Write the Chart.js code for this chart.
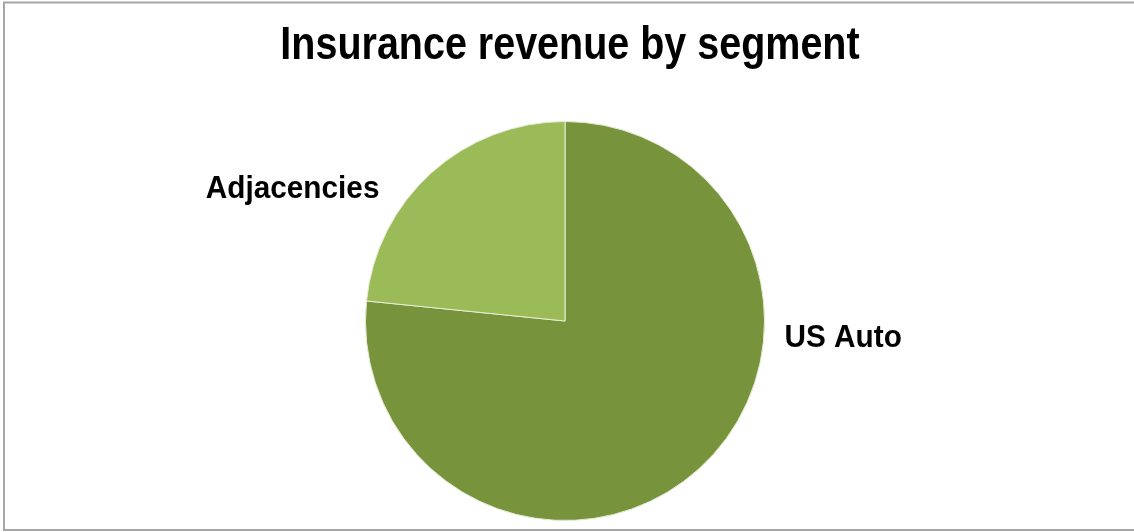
<!DOCTYPE html>
<html>
<head>
<meta charset="utf-8">
<title>Insurance revenue by segment</title>
<script src="https://cdn.jsdelivr.net/npm/chart.js@4/dist/chart.umd.min.js"></script>
<style>
  html, body { margin: 0; padding: 0; background: #fff; }
  #wrap { width: 1134px; height: 532px; }
</style>
</head>
<body>
<div id="wrap"><canvas id="chart" width="1134" height="532"></canvas></div>
<script>
  // segments, clockwise from 12 o'clock
  const segments = ['US Auto', 'Adjacencies'];
  const shares = [76.6, 23.4];
  const sliceColors = ['#77933C', '#9BBB59'];
  const chartTitle = 'Insurance revenue by segment';

  const FONT = "'Liberation Sans', Arial, sans-serif";

  // no narrow face installed, so squeeze the regular bold one
  function narrowText(ctx, text, x, y, size, squeeze, align) {
    ctx.save();
    ctx.font = 'bold ' + size + 'px ' + FONT;
    ctx.fillStyle = '#000';
    ctx.textBaseline = 'alphabetic';
    ctx.textAlign = align;
    ctx.translate(x, y);
    ctx.scale(squeeze, 1);
    ctx.fillText(text, 0, 0);
    ctx.restore();
  }

  // white background, grey frame and the title
  const framePlugin = {
    id: 'frame',
    beforeDraw(chart) {
      const ctx = chart.ctx;
      ctx.save();
      ctx.fillStyle = '#fff';
      ctx.fillRect(0, 0, chart.width, chart.height);
      ctx.strokeStyle = '#a6a6a6';
      ctx.lineWidth = 2;
      ctx.strokeRect(4, 2.5, chart.width + 10, chart.height - 2.5 - 2);
      ctx.restore();
      narrowText(ctx, chartTitle, 570, 59, 47, 0.84, 'center');
    }
  };

  // category names beside the pie, placed relative to the arc
  const sliceLabels = {
    id: 'sliceLabels',
    afterDatasetsDraw(chart) {
      const ctx = chart.ctx;
      const arcs = chart.getDatasetMeta(0).data;
      const spots = [
        { dx: 1.1, dy: 0.13, align: 'left' },
        { dx: -0.93, dy: -0.615, align: 'right' }
      ];
      arcs.forEach((arc, i) => {
        const r = arc.outerRadius;
        narrowText(ctx, segments[i], arc.x + spots[i].dx * r, arc.y + spots[i].dy * r,
          32, 0.93, spots[i].align);
      });
    }
  };

  new Chart(document.getElementById('chart'), {
    type: 'pie',
    data: {
      labels: segments,
      datasets: [{
        data: shares,
        backgroundColor: sliceColors,
        borderColor: '#e6eed6',
        borderWidth: 1
      }]
    },
    options: {
      responsive: false,
      animation: false,
      layout: { padding: { left: 0, right: 4, top: 121, bottom: 11 } },
      plugins: {
        legend: { display: false },
        tooltip: { enabled: false },
        title: { display: false }
      }
    },
    plugins: [framePlugin, sliceLabels]
  });
</script>
</body>
</html>
